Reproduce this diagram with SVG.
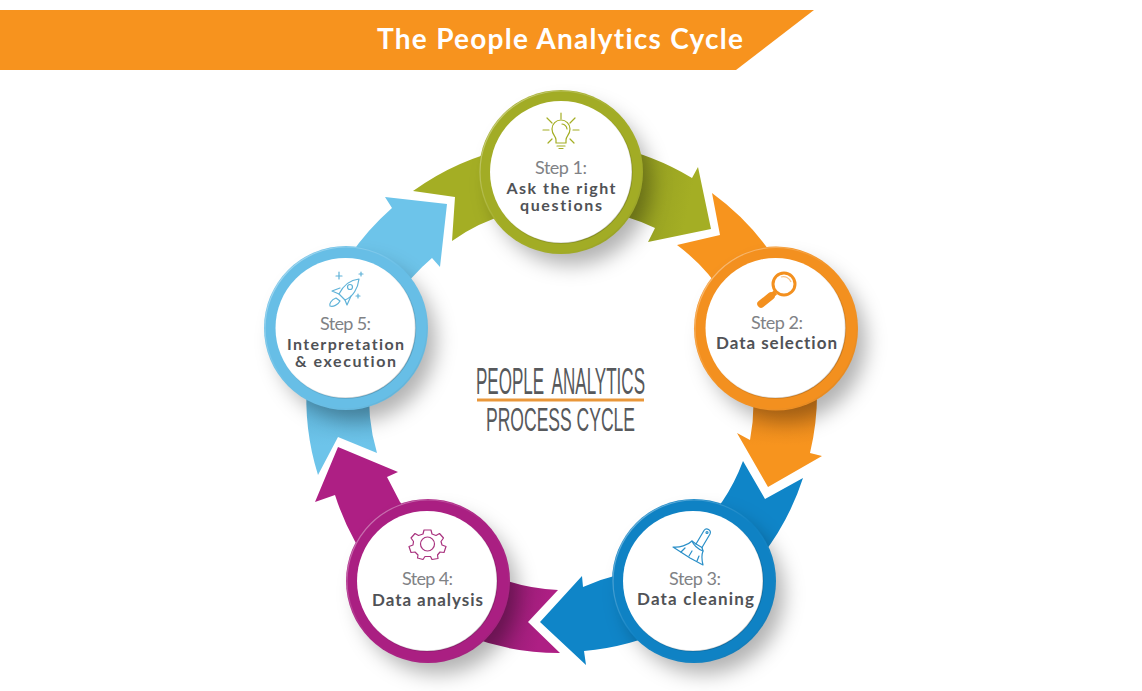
<svg xmlns="http://www.w3.org/2000/svg" width="1142" height="691" viewBox="0 0 1142 691">
<style>
text{font-family:Lato,"Open Sans","Liberation Sans",sans-serif;font-variant-ligatures:none}
.s{font-size:18px;fill:#808285}
.b{font-size:17px;font-weight:700;fill:#505256}
.b2{font-size:16px;font-weight:700;fill:#505256}
.ic{fill:none;stroke-width:1.2;stroke-linecap:round;stroke-linejoin:round}
.cen{font-family:"Liberation Sans",Arial,sans-serif;fill:#57595c}
.hole{fill:#fff;stroke:url(#holeEdge);stroke-width:1.5}
.edge{fill:none;stroke:url(#edge);stroke-width:1.2}
.shadow{fill:#000;fill-opacity:.3;filter:url(#blur)}
</style>
<defs>
<filter id="blur" x="-50%" y="-50%" width="200%" height="200%"><feGaussianBlur stdDeviation="10"/></filter>
<linearGradient id="edge" x1="0" y1="0" x2="1" y2="1"><stop offset="0" stop-color="#fff" stop-opacity=".5"/><stop offset=".5" stop-color="#fff" stop-opacity="0"/><stop offset="1" stop-color="#000" stop-opacity=".12"/></linearGradient>
<linearGradient id="holeEdge" x1="0" y1="0" x2="1" y2="1"><stop offset=".4" stop-color="#000" stop-opacity="0"/><stop offset="1" stop-color="#000" stop-opacity=".25"/></linearGradient>
<linearGradient id="gR" gradientUnits="userSpaceOnUse" x1="640" y1="190" x2="690" y2="200"><stop offset="0" stop-color="#959f21"/><stop offset="1" stop-color="#a4ae24"/></linearGradient>
<linearGradient id="mR" gradientUnits="userSpaceOnUse" x1="505" y1="610" x2="545" y2="620"><stop offset="0" stop-color="#951c73"/><stop offset="1" stop-color="#ae1f84"/></linearGradient>
<linearGradient id="oL" gradientUnits="userSpaceOnUse" x1="780" y1="405" x2="780" y2="445"><stop offset="0" stop-color="#e5861c"/><stop offset="1" stop-color="#f7941e"/></linearGradient>
<linearGradient id="sL" gradientUnits="userSpaceOnUse" x1="340" y1="405" x2="340" y2="445"><stop offset="0" stop-color="#5fb4da"/><stop offset="1" stop-color="#6dc4ea"/></linearGradient>
</defs>
<g id="banner">
<polygon points="0,10 814,10 736,70 0,70" fill="#f7931e"/>
<text x="377" y="49" font-size="28" font-weight="700" fill="#fff" textLength="366">The People Analytics Cycle</text>
</g>
<g id="connectors">
<path fill="#a4ae24" d="M413,191A256,256 0 0 1 520,146L524,210A191,191 0 0 0 452,241L455,197Z"/>
<path fill="url(#gR)" d="M610,146A256,256 0 0 1 692,178L698,167L711,229L648,242L655,228A191,191 0 0 0 600,211Z"/>
<path fill="#f7941e" d="M712,193A256,256 0 0 1 790,285L725,297A191,191 0 0 0 677,245L720,235Z"/>
<path fill="url(#oL)" d="M816,370A256,256 0 0 1 810,453L822,456L768,487L737,433L750,440A191,191 0 0 0 752,380Z"/>
<path fill="#0f85c8" d="M803,478A256,256 0 0 1 750,570L700,525L722,502A191,191 0 0 0 743,461L765,499Z"/>
<path fill="#0f85c8" d="M670,628A256,256 0 0 1 584,651L586,665L540,622L582,576L583,587A191,191 0 0 1 650,570Z"/>
<path fill="url(#mR)" d="M558,590L528,622L560,653A256,256 0 0 1 470,637L482,571A191,191 0 0 0 558,590Z"/>
<path fill="#ae1f84" d="M375,572A256,256 0 0 1 335,495L315,502L338,447L398,472L387,477L400,502L425,530Z"/>
<path fill="url(#sL)" d="M307,380A256,256 0 0 0 318,475L338,437L377,453A191,191 0 0 1 370,380Z"/>
<path fill="#6dc4ea" d="M330,290A256,256 0 0 1 392,208L385,197L447,204L440,267L432,258A191,191 0 0 0 395,300Z"/>
</g>
<g id="step1">
<circle class="shadow" cx="571" cy="185" r="80"/>
<circle cx="561" cy="172" r="82" fill="#a2ac25"/>
<circle class="edge" cx="561" cy="172" r="81"/>
<circle class="hole" cx="561" cy="172" r="71"/>
<g class="ic" stroke="#a4ae24">
<path d="M561,113V119M547,118L552,123M575,118L570,123M543,130H549M573,130H579M548,143L552,139M574,143L570,139"/>
<path d="M556,143V140C556,136 552,135 552,129A9,9 0 0 1 570,129C570,135 566,136 566,140V143ZM557,146H565M559,148.500H563"/>
<path d="M562,124A6,6 0 0 1 567,129"/>
</g>
<text class="s" x="535" y="174" textLength="52">Step 1:</text>
<text class="b2" x="506.500" y="193.500" textLength="109">Ask the right</text>
<text class="b2" x="520" y="211" textLength="82">questions</text>
</g>
<g id="step2">
<circle class="shadow" cx="786" cy="342" r="80"/>
<circle cx="776" cy="328.500" r="82" fill="#f3901f"/>
<circle class="edge" cx="776" cy="328.500" r="81"/>
<circle class="hole" cx="775.500" cy="328" r="70"/>
<circle cx="784" cy="284" r="11" fill="none" stroke="#f3901f" stroke-width="3"/>
<path d="M775.500,292.500L771,296" stroke="#f3901f" stroke-width="5" fill="none"/>
<path d="M771,296L761,304" stroke="#f3901f" stroke-width="7.500" stroke-linecap="round" fill="none"/>
<path d="M781,277A8,8 0 0 1 791,282" stroke="#f8c48a" stroke-width="1.300" fill="none"/>
<text class="s" x="751" y="329" textLength="52">Step 2:</text>
<text class="b" x="716" y="349" textLength="121">Data selection</text>
</g>
<g id="step3">
<circle class="shadow" cx="704" cy="594" r="80"/>
<circle cx="694" cy="581" r="82" fill="#0f82c4"/>
<circle class="edge" cx="694" cy="581" r="81"/>
<circle class="hole" cx="693" cy="581" r="70"/>
<g class="ic" stroke="#2a8fc8">
<path d="M696,544L704,530.500A3.500,3.500 0 0 1 710,534L702,547.500"/>
<circle cx="707" cy="532.500" r="1"/>
<path d="M696,544L702,547.500L703,551C701,556 702,561 703,565L690,558L673,547C679,548 688,545 692,541Z"/>
<path d="M692,541C694,546 698,549 703,551M681,552L685,548M689,556L692,551M697,561L699,556"/>
</g>
<text class="s" x="669" y="585" textLength="52">Step 3:</text>
<text class="b" x="637" y="605" textLength="117">Data cleaning</text>
</g>
<g id="step4">
<circle class="shadow" cx="438" cy="594" r="80"/>
<circle cx="428" cy="581" r="82" fill="#aa1f82"/>
<circle class="edge" cx="428" cy="581" r="81"/>
<circle class="hole" cx="427" cy="581" r="70"/>
<g class="ic" stroke="#a9337f">
<circle cx="427.500" cy="544" r="7"/>
<path d="M424,530L431,530L432,534L436,535.500L439.500,533.500L443.500,538L441,541.500L442,545L446,546.500L444,552.500L440,552L437.500,555L438,558.500L432,559.500L430.500,556.500L425,556.500L423,559.500L417.500,558L418,555L415,552L411,552.500L409,546.500L413,545L413.500,541.500L411,538L415,533.500L418.500,535.500L423,534Z"/>
</g>
<text class="s" x="402" y="585" textLength="51">Step 4:</text>
<text class="b" x="372" y="606" textLength="111">Data analysis</text>
</g>
<g id="step5">
<circle class="shadow" cx="356" cy="341" r="80"/>
<circle cx="346" cy="328" r="82" fill="#67bee6"/>
<circle class="edge" cx="346" cy="328" r="81"/>
<circle class="hole" cx="345.500" cy="328" r="70"/>
<g class="ic" stroke="#5fb2d8">
<path d="M359,279C350,280 343,286 339,294L345,300C353,297 358,288 359,279Z"/>
<circle cx="350" cy="287" r="2.500"/>
<path d="M339,294L332,291L340,288M345,300L347,305L351,296"/>
<path d="M336,298C331,300 329,304 330,306C333,307 338,305 340,301Z"/>
<path d="M339,272V279M336,276H342M361,272V276M359,274H363M358,294V298M356,296H360"/>
</g>
<text class="s" x="320" y="330" textLength="51">Step 5:</text>
<text class="b2" x="287" y="349.500" textLength="117">Interpretation</text>
<text class="b2" x="295" y="367" textLength="101">&amp; execution</text>
</g>
<g id="center-title">
<text class="cen" x="476" y="394" font-size="37" word-spacing="8" textLength="169" lengthAdjust="spacingAndGlyphs">PEOPLE ANALYTICS</text>
<rect x="477" y="398.500" width="167" height="3" fill="#e9973a"/>
<text class="cen" x="486" y="431" font-size="34" textLength="149" lengthAdjust="spacingAndGlyphs">PROCESS CYCLE</text>
</g>
</svg>
